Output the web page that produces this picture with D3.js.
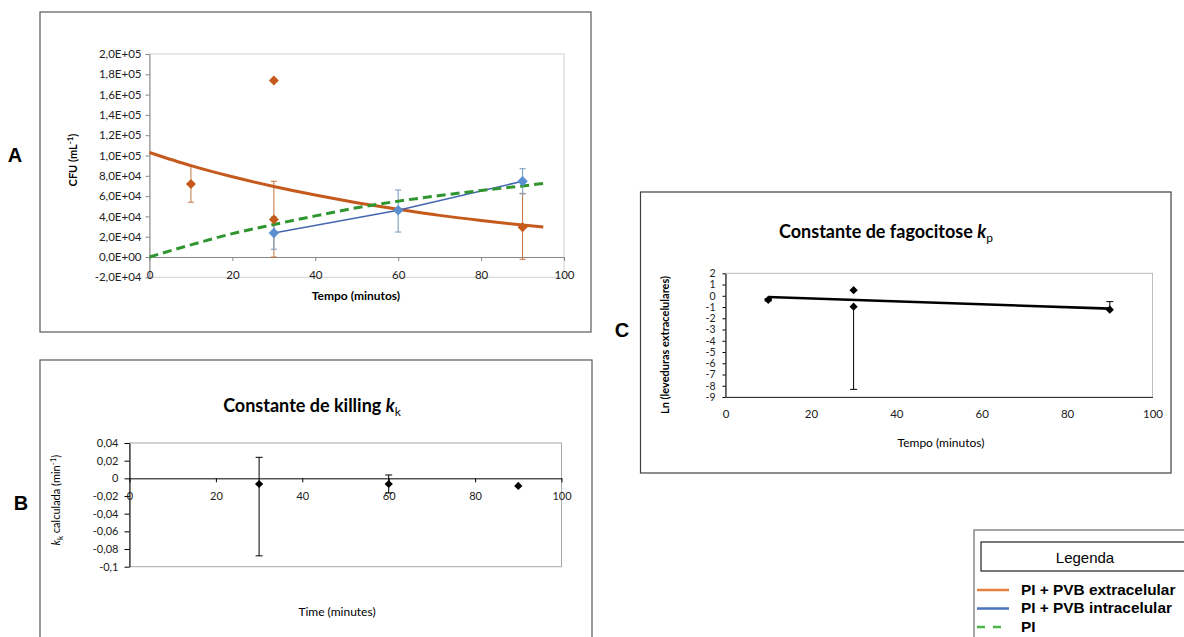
<!DOCTYPE html>
<html>
<head>
<meta charset="utf-8">
<script src="https://cdn.jsdelivr.net/npm/d3@7"></script>
<style>
  body { margin: 0; background: #fff; }
  svg { display: block; }
</style>
</head>
<body>
<svg id="fig" width="1184" height="637"></svg>
<script>
// ---------------- Data ----------------
const timeTicks = [0, 20, 40, 60, 80, 100];

// A: CFU per mL over time
const cfuTicks = [-2e4, 0, 2e4, 4e4, 6e4, 8e4, 1e5, 1.2e5, 1.4e5, 1.6e5, 1.8e5, 2e5];
const extraTimes = [10, 30, 30, 90];
const extraCfu   = [7.2e4, 1.74e5, 3.7e4, 2.92e4];
const extraLow   = [5.4e4, null, 0, -0.23e4];
const extraHigh  = [8.97e4, null, 7.46e4, 6.27e4];
const intraTimes = [30, 60, 90];
const intraCfu   = [2.36e4, 4.6e4, 7.46e4];
const intraLow   = [0.76e4, 2.46e4, 6.22e4];
const intraHigh  = [3.96e4, 6.6e4, 8.7e4];
// fitted curves (exponential decay of extracellular yeasts, PI uptake)
const fitTimes   = [0, 10, 20, 30, 40, 50, 60, 70, 80, 90, 95];
const extraFit   = [1.03e5, 0.90e5, 0.79e5, 0.695e5, 0.61e5, 0.535e5, 0.47e5, 0.41e5, 0.36e5, 0.315e5, 0.295e5];
const piFit      = [0, 1.2e4, 2.3e4, 3.2e4, 4.05e4, 4.85e4, 5.5e4, 6.05e4, 6.55e4, 7.0e4, 7.25e4];

// B: killing constant
const killTicks = [-0.1, -0.08, -0.06, -0.04, -0.02, 0, 0.02, 0.04];
const killTimes = [30, 60, 90];
const killRate  = [-0.0064, -0.0064, -0.0086];
const killLow   = [-0.0877, -0.0166, null];
const killHigh  = [0.0238, 0.0038, null];

// C: phagocytosis constant
const lnTicks    = [-9, -8, -7, -6, -5, -4, -3, -2, -1, 0, 1, 2];
const phagoTimes = [10, 30, 30, 90];
const lnExtra    = [-0.36, 0.5, -0.97, -1.24];
const lnLow      = [-0.46, null, -8.32, null];
const lnHigh     = [-0.26, null, null, -0.52];
const trendTimes = [10, 90];
const trendLn    = [-0.11, -1.14];

// Legend
const legendNames  = ["PI + PVB extracelular", "PI + PVB intracelular", "PI"];
const legendColors = ["#e5803f", "#4a72bd", "#4cb84c"];
const legendDash   = [null, null, "8,8"];

// ---------------- Drawing ----------------
const svg = d3.select("#fig");
const FONT = "Lato, 'Open Sans', sans-serif";
const ARIAL = "'Liberation Sans', Arial, sans-serif";

function box(x, y, w, h, stroke) {
  svg.append("rect").attr("x", x).attr("y", y).attr("width", w).attr("height", h)
    .attr("fill", "none").attr("stroke", stroke).attr("stroke-width", 1.2);
}
function letter(x, y, s) {
  svg.append("text").attr("x", x).attr("y", y).attr("text-anchor", "middle")
    .attr("dominant-baseline", "central")
    .style("font-family", ARIAL).style("font-size", "20px").style("font-weight", "700").text(s);
}
function styleAxis(g, color, size) {
  g.select(".domain").attr("stroke", color);
  g.selectAll(".tick line").attr("stroke", color);
  g.selectAll(".tick text").attr("fill", "#222").style("font-family", FONT).style("font-size", size || "11px");
}
const commaNum = v => String(+v.toFixed(4)).replace(".", ",");
function sciFormat(v) {
  if (v === 0) return "0,0E+00";
  const e = Math.floor(Math.log10(Math.abs(v)) + 1e-9);
  const m = v / Math.pow(10, e);
  return (m < 0 ? "-" : "") + Math.abs(m).toFixed(1).replace(".", ",") + "E" + (e < 0 ? "-" : "+") + String(Math.abs(e)).padStart(2, "0");
}
function diamonds(g, xs, ys, x, y, color, area) {
  g.selectAll(null).data(d3.zip(xs, ys)).join("path")
    .attr("d", d3.symbol(d3.symbolSquare, area))
    .attr("transform", d => `translate(${x(d[0])},${y(d[1])}) rotate(45)`)
    .attr("fill", color);
}
function errorBars(g, xs, ys, lows, highs, x, y, color, capW, sw) {
  const rows = xs.map((t, i) => ({ t, v: ys[i], lo: lows[i], hi: highs[i] }));
  rows.forEach(r => {
    [r.lo, r.hi].forEach(end => {
      if (end == null) return;
      g.append("line").attr("x1", x(r.t)).attr("x2", x(r.t)).attr("y1", y(r.v)).attr("y2", y(end))
        .attr("stroke", color).attr("stroke-width", sw);
      g.append("line").attr("x1", x(r.t) - capW / 2).attr("x2", x(r.t) + capW / 2)
        .attr("y1", y(end)).attr("y2", y(end)).attr("stroke", color).attr("stroke-width", sw);
    });
  });
}

// ===== Panel A =====
box(40, 12, 551, 320, "#595959");
letter(15, 155, "A");
const xA = d3.scaleLinear([0, 100], [149.5, 564]);
const yA = d3.scaleLinear([-2e4, 2e5], [277.3, 54]);
const gA = svg.append("g");
gA.append("rect").attr("x", xA(0)).attr("y", yA(2e5)).attr("width", xA(100) - xA(0))
  .attr("height", yA(-2e4) - yA(2e5)).attr("fill", "none").attr("stroke", "#cfcfcf");
styleAxis(gA.append("g").attr("transform", `translate(${xA(0)},0)`)
  .call(d3.axisLeft(yA).tickValues(cfuTicks).tickFormat(sciFormat).tickSize(4).tickSizeOuter(0).tickPadding(4)), "#868686", "11.5px");
styleAxis(gA.append("g").attr("transform", `translate(0,${yA(0)})`)
  .call(d3.axisBottom(xA).tickValues(timeTicks).tickSize(4).tickSizeOuter(0).tickPadding(10)), "#868686", "11.5px");
gA.append("text").attr("transform", `translate(77,160) rotate(-90)`).attr("text-anchor", "middle")
  .style("font-family", FONT).style("font-size", "11px").style("font-weight", "700")
  .call(t => { t.append("tspan").text("CFU (mL"); t.append("tspan").attr("dy", -4).style("font-size", "8px").text("-1");
               t.append("tspan").attr("dy", 4).text(")"); });
gA.append("text").attr("x", 356).attr("y", 300).attr("text-anchor", "middle")
  .style("font-family", FONT).style("font-size", "12px").style("font-weight", "700").text("Tempo (minutos)");

errorBars(gA, extraTimes, extraCfu, extraLow, extraHigh, xA, yA, "#c4743f", 6, 1);
errorBars(gA, intraTimes, intraCfu, intraLow, intraHigh, xA, yA, "#86a6c6", 6, 1.2);
const fitLine = d3.line().x(d => xA(d[0])).y(d => yA(d[1])).curve(d3.curveMonotoneX);
gA.append("path").attr("d", fitLine(d3.zip(fitTimes, extraFit)))
  .attr("fill", "none").attr("stroke", "#c55a1c").attr("stroke-width", 3);
gA.append("path").attr("d", d3.line().x(d => xA(d[0])).y(d => yA(d[1]))(d3.zip(intraTimes, intraCfu)))
  .attr("fill", "none").attr("stroke", "#4466b0").attr("stroke-width", 1.6);
gA.append("path").attr("d", fitLine(d3.zip(fitTimes, piFit)))
  .attr("fill", "none").attr("stroke", "#2f962f").attr("stroke-width", 3).attr("stroke-dasharray", "9,5");
diamonds(gA, extraTimes, extraCfu, xA, yA, "#c55a1c", 50);
diamonds(gA, intraTimes, intraCfu, xA, yA, "#5b8fd0", 55);

// ===== Panel B =====
box(40, 360, 552, 300, "#595959");
letter(21, 503, "B");
const xB = d3.scaleLinear([0, 100], [129.5, 561.5]);
const yB = d3.scaleLinear([-0.1, 0.04], [566.7, 443]);
const gB = svg.append("g");
gB.append("rect").attr("x", xB(0)).attr("y", yB(0.04)).attr("width", xB(100) - xB(0))
  .attr("height", yB(-0.1) - yB(0.04)).attr("fill", "none").attr("stroke", "#a8a8a8");
styleAxis(gB.append("g").attr("transform", `translate(${xB(0)},0)`)
  .call(d3.axisLeft(yB).tickValues(killTicks).tickFormat(commaNum).tickSize(5).tickSizeOuter(0).tickPadding(6)), "#000");
styleAxis(gB.append("g").attr("transform", `translate(0,${yB(0)})`)
  .call(d3.axisBottom(xB).tickValues(timeTicks).tickSize(4).tickSizeOuter(0).tickPadding(10)), "#000");
gB.append("text").attr("x", 312).attr("y", 412).attr("text-anchor", "middle")
  .style("font-family", FONT).style("font-size", "18px").style("font-weight", "700")
  .call(t => { t.append("tspan").text("Constante de killing ");
               t.append("tspan").style("font-style", "italic").text("k");
               t.append("tspan").attr("dy", 4).style("font-size", "12px").style("font-weight", "400").text("k"); });
gB.append("text").attr("transform", `translate(60,500) rotate(-90)`).attr("text-anchor", "middle")
  .style("font-family", FONT).style("font-size", "11px")
  .call(t => { t.append("tspan").style("font-style", "italic").text("k");
               t.append("tspan").attr("dy", 3).style("font-size", "8px").text("k");
               t.append("tspan").attr("dy", -3).text(" calculada (min");
               t.append("tspan").attr("dy", -4).style("font-size", "8px").text("-1");
               t.append("tspan").attr("dy", 4).text(")"); });
gB.append("text").attr("x", 337).attr("y", 616).attr("text-anchor", "middle")
  .style("font-family", FONT).style("font-size", "12px").text("Time (minutes)");
errorBars(gB, killTimes, killRate, killLow, killHigh, xB, yB, "#000", 7, 1);
diamonds(gB, killTimes, killRate, xB, yB, "#000", 34);

// ===== Panel C =====
box(640.5, 192, 530.5, 281, "#404040");
letter(622, 330, "C");
const xC = d3.scaleLinear([0, 100], [725.5, 1152.5]);
const yC = d3.scaleLinear([-9, 2], [397, 273.3]);
const gC = svg.append("g");
gC.append("rect").attr("x", xC(0)).attr("y", yC(2)).attr("width", xC(100) - xC(0))
  .attr("height", yC(-9) - yC(2)).attr("fill", "none").attr("stroke", "#bdbdbd");
styleAxis(gC.append("g").attr("transform", `translate(${xC(0)},0)`)
  .call(d3.axisLeft(yC).tickValues(lnTicks).tickFormat(d => String(d)).tickSize(3).tickSizeOuter(0).tickPadding(7)), "#000", "10.5px");
styleAxis(gC.append("g").attr("transform", `translate(0,${yC(-9)})`)
  .call(d3.axisBottom(xC).tickValues(timeTicks).tickSize(0).tickSizeOuter(0).tickPadding(13)), "#333", "11.5px");
gC.append("text").attr("x", 886).attr("y", 238).attr("text-anchor", "middle")
  .style("font-family", FONT).style("font-size", "18px").style("font-weight", "700")
  .call(t => { t.append("tspan").text("Constante de fagocitose ");
               t.append("tspan").style("font-style", "italic").text("k");
               t.append("tspan").attr("dy", 4).style("font-size", "12px").style("font-weight", "400").text("p"); });
gC.append("text").attr("transform", `translate(669,345) rotate(-90)`).attr("text-anchor", "middle")
  .style("font-family", FONT).style("font-size", "11px").style("font-weight", "700")
  .text("Ln (leveduras extracelulares)");
gC.append("text").attr("x", 941).attr("y", 447).attr("text-anchor", "middle")
  .style("font-family", FONT).style("font-size", "12px").text("Tempo (minutos)");
errorBars(gC, phagoTimes, lnExtra, lnLow, lnHigh, xC, yC, "#000", 7, 1);
gC.append("path").attr("d", d3.line().x(d => xC(d[0])).y(d => yC(d[1]))(d3.zip(trendTimes, trendLn)))
  .attr("stroke", "#000").attr("stroke-width", 2.6).attr("fill", "none");
diamonds(gC, phagoTimes, lnExtra, xC, yC, "#000", 34);

// ===== Legend =====
box(974, 530, 230, 120, "#6a6a6a");
svg.append("rect").attr("x", 981).attr("y", 542).attr("width", 220).attr("height", 29)
  .attr("fill", "none").attr("stroke", "#222").attr("stroke-width", 1.2);
svg.append("text").attr("x", 1085).attr("y", 557).attr("text-anchor", "middle").attr("dominant-baseline", "central")
  .style("font-family", ARIAL).style("font-size", "15px").text("Legenda");
const lg = svg.append("g").selectAll("g").data(legendNames).join("g")
  .attr("transform", (d, i) => `translate(0,${590 + i * 18.5})`);
lg.append("line").attr("x1", 977).attr("x2", 1009).attr("stroke", (d, i) => legendColors[i])
  .attr("stroke-width", 2.5).attr("stroke-dasharray", (d, i) => legendDash[i]);
lg.append("text").attr("transform", "translate(1021,0) scale(1.1,1)").attr("dominant-baseline", "central")
  .style("font-family", ARIAL).style("font-size", "14px").style("font-weight", "700").text(d => d);
</script>
</body>
</html>
